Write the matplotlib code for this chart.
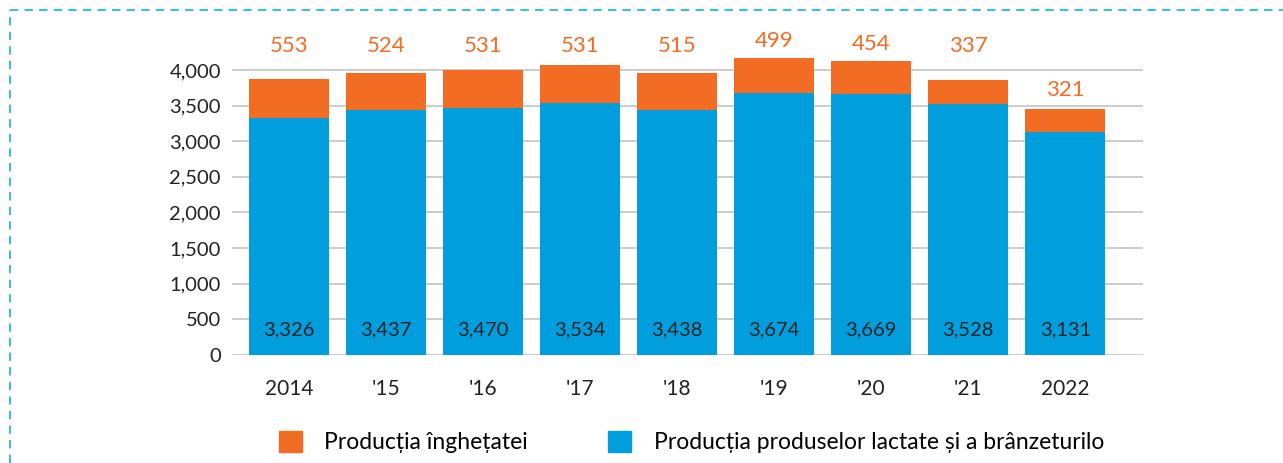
import numpy as np
import matplotlib
matplotlib.use("Agg")
import matplotlib.pyplot as plt
from matplotlib.lines import Line2D
from matplotlib.patches import Patch

plt.rcParams['font.family'] = ['Lato', 'DejaVu Sans']

# Productie anuala (tone)
years = ["2014", "'15", "'16", "'17", "'18", "'19", "'20", "'21", "2022"]
lactate = [3326, 3437, 3470, 3534, 3438, 3674, 3669, 3528, 3131]
inghetata = [553, 524, 531, 531, 515, 499, 454, 337, 321]

ORANGE = '#F26C23'
BLUE = '#009EDC'

fig = plt.figure(figsize=(12.83, 4.63), dpi=100)
ax = fig.add_axes([232 / 1283, 1 - 355 / 463, 911 / 1283, 313.5 / 463])

x = np.arange(len(years))
lac = np.array(lactate)
ing = np.array(inghetata)
totals = lac + ing

ax.bar(x, lac, width=0.825, color=BLUE, zorder=2)
ax.bar(x, ing, width=0.825, bottom=lac, color=ORANGE, zorder=2)

# etichete valori
for xi, v in zip(x, lac):
    ax.text(xi, 350, f"{v:,}", ha='center', va='center', fontsize=14.5, color='#222222', zorder=3)

lab_y = np.where(totals > 3800, np.maximum(totals + 100, 4200), totals + 120)
for xi, v, yl in zip(x, ing, lab_y):
    ax.text(xi, yl, f"{v}", ha='center', va='bottom', fontsize=16, color=ORANGE, zorder=3)

ax.set_xlim(-0.588, 8.80)
ax.set_ylim(0, 4400)
ax.set_yticks(np.arange(0, 4001, 500))
ax.set_yticklabels([f"{t:,}" for t in range(0, 4001, 500)])
ax.set_xticks(x)
ax.set_xticklabels(years)
ax.grid(axis='y', color='#C4C4C4', linewidth=1.2, zorder=0)
for s in ax.spines.values():
    s.set_visible(False)
ax.tick_params(axis='both', length=0, labelsize=14.5, colors='#222222')
ax.tick_params(axis='x', labelsize=15, pad=17)
ax.tick_params(axis='y', pad=8)

handles = [Patch(color=ORANGE, label='Producția înghețatei'),
           Patch(color=BLUE, label='Producția produselor lactate și a brânzeturilo')]
fig.legend(handles=handles, loc='center left', bbox_to_anchor=(258 / 1283, 1 - 442 / 463),
           ncol=2, frameon=False, fontsize=16.5, handlelength=1.0, handleheight=1.05,
           handletextpad=1.0, columnspacing=3.5)

# chenar punctat
border = dict(color='#45B8E8', linewidth=1.5, linestyle=(0, (4, 3)))
fig.add_artist(Line2D([10 / 1283, 10 / 1283], [0, 1 - 10 / 463], transform=fig.transFigure, **border))
fig.add_artist(Line2D([10 / 1283, 1], [1 - 10 / 463, 1 - 10 / 463], transform=fig.transFigure, **border))

fig.savefig('out.png', dpi=100)
